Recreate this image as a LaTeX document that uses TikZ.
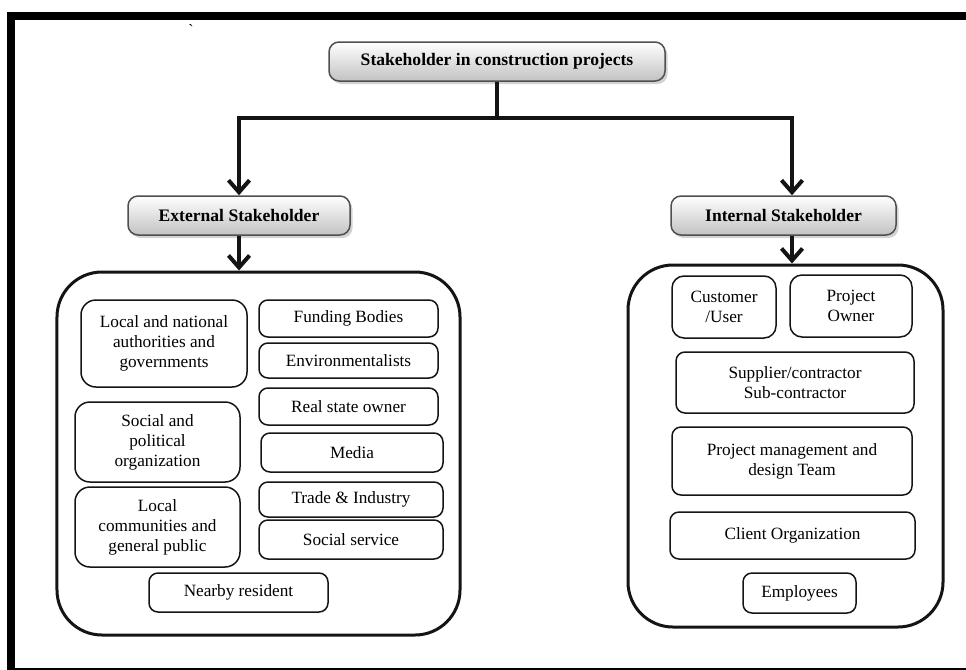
\documentclass[tikz,border=0pt]{standalone}
\usepackage{fontspec}
\setmainfont{Liberation Serif}
\usetikzlibrary{arrows.meta,positioning,calc,shadows}
\definecolor{cInk}{HTML}{141414}
\definecolor{cHead}{HTML}{C2C2C2}
\tikzset{
  >={Straight Barb[length=2.4mm,width=4.2mm]},
  head/.style ={rounded corners=2mm,draw=cInk!75,line width=0.3mm,
                top color=white,bottom color=cHead,
                drop shadow={shadow xshift=0.5mm,shadow yshift=-0.6mm,opacity=0.35},
                font=\fontsize{10}{12}\selectfont\bfseries,minimum height=7.8mm,inner sep=2pt},
  grp/.style  ={rounded corners=9mm,draw=cInk,line width=0.6mm,inner sep=0pt},
  ibox/.style ={rounded corners=1.8mm,draw=cInk,line width=0.3mm,align=center,
                font=\fontsize{9.8}{11.4}\selectfont,inner sep=2pt},
  tbox/.style ={ibox,rounded corners=3mm},
  conn/.style ={line width=0.8mm,cInk},
  arr/.style  ={conn,->},
}

\begin{document}
\begin{tikzpicture}[x=0.2mm,y=-0.2mm]
\useasboundingbox (0,0) rectangle (966,669);
% frame, cut at the page edge
\begin{scope}
\clip (0,0) rectangle (966,669);
\draw[line width=1.6mm] (11,16) rectangle (1000,672);
\end{scope}
\node[font=\small,inner sep=0pt] (tick) at (191,30) {\textasciigrave};

% headers
\node[head,minimum width=67.2mm] (top) at (497,61.5) {Stakeholder in construction projects};
\node[head,minimum width=44.4mm] (ext) at (239,215.5) {External Stakeholder};
\node[head,minimum width=45mm]   (int) at (783.5,215.5) {Internal Stakeholder};

% groups
\node[grp,minimum width=80.6mm,minimum height=72.6mm] (extbox) at (258.5,453.5) {};
\node[grp,minimum width=63mm,minimum height=72.4mm]   (intbox) at (785.5,446) {};

% external members
\node[tbox,minimum width=33.2mm,minimum height=17.4mm] (loc) at (164,343.5) {Local and national\\authorities and\\governments};
\node[tbox,minimum width=33mm,minimum height=16mm] (soc) at (157.5,442) {Social and\\political\\organization};
\node[tbox,minimum width=33mm,minimum height=16mm] (pub) at (157.5,527) {Local\\communities and\\general public};
\node[ibox,minimum width=35.8mm,minimum height=7.4mm] (fund)  at (348.5,318.5) {Funding Bodies};
\node[ibox,minimum width=35.8mm,minimum height=7mm]   (env)   at (348.5,360.5) {Environmentalists};
\node[ibox,minimum width=35.8mm,minimum height=7.4mm] (real)  at (348.5,406.5) {Real state owner};
\node[ibox,minimum width=36.4mm,minimum height=7.8mm] (media) at (352,452.5) {Media};
\node[ibox,minimum width=36.8mm,minimum height=7mm]   (trade) at (351,499.5) {Trade \& Industry};
\node[ibox,minimum width=36.8mm,minimum height=7.8mm] (sserv) at (351,539.5) {Social service};
\node[ibox,minimum width=35.8mm,minimum height=7.8mm] (near)  at (238.5,592.5) {Nearby resident};

% internal members
\node[ibox,rounded corners=2.4mm,minimum width=20.8mm,minimum height=12.4mm] (cust) at (724,307) {Customer\\/User};
\node[ibox,rounded corners=2.4mm,minimum width=24.4mm,minimum height=12.4mm] (own)  at (851,306) {Project\\Owner};
\node[ibox,minimum width=47.6mm,minimum height=12.2mm] (supp)   at (795,382.5) {Supplier/contractor\\Sub-contractor};
\node[ibox,minimum width=48mm,minimum height=13.6mm]   (pm)     at (792,461) {Project management and\\design Team};
\node[ibox,minimum width=49mm,minimum height=9.4mm]    (client) at (792.5,535.5) {Client Organization};
\node[ibox,minimum width=22.6mm,minimum height=8mm]    (emp)    at (799.5,593) {Employees};

% connectors
\draw[conn] (top.south) -- ++(0,36) coordinate (jn);
\draw[arr] (jn) -| (ext.north);
\draw[arr] (jn) -| ([xshift=1.7mm]int.north);
\draw[arr] (ext.south) -- (ext.south |- extbox.north);
\draw[arr] ([xshift=1.7mm]int.south) -- ([xshift=1.7mm]int.south |- intbox.north);
\end{tikzpicture}
\end{document}
